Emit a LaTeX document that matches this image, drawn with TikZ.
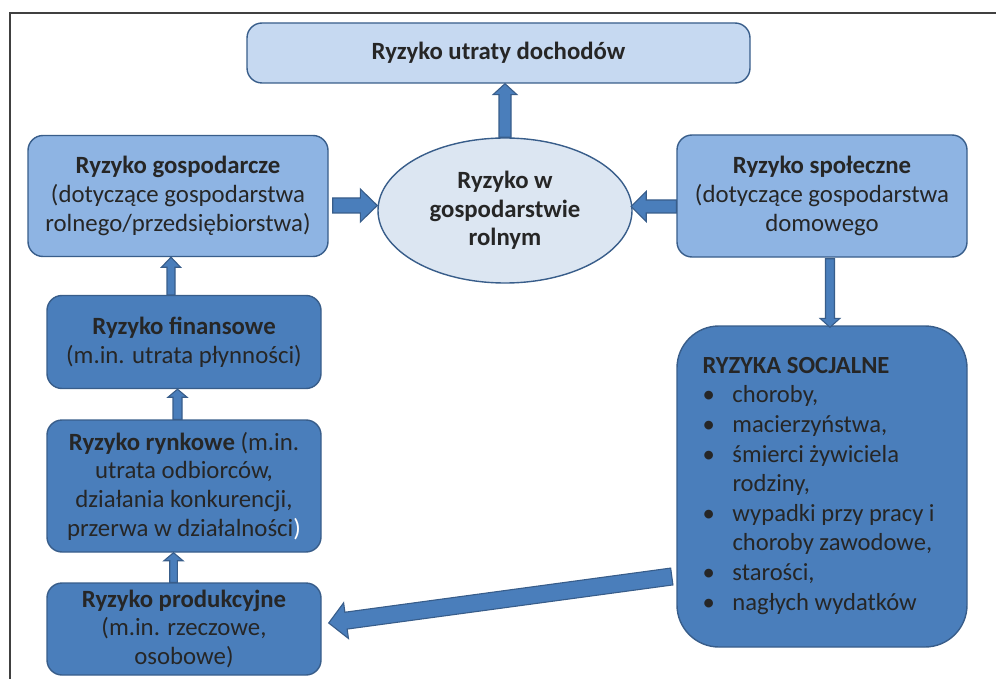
\documentclass[tikz,border=0pt]{standalone}
\usepackage{fontspec}
\setmainfont{Carlito}
\usetikzlibrary{calc,shapes.geometric}

\definecolor{topfill}{RGB}{198,217,241}
\definecolor{ellfill}{RGB}{220,230,242}
\definecolor{midfill}{RGB}{142,180,227}
\definecolor{darkfill}{RGB}{74,126,187}
\definecolor{edge}{RGB}{56,93,138}
\definecolor{ink}{RGB}{38,38,38}
\definecolor{framecol}{RGB}{64,64,64}

% block arrow: #1 tail, #2 tip, #3 half shaft width, #4 half head width, #5 head length
\newcommand\blockarrow[5]{%
  \path ($(#2)!#5!(#1)$) coordinate (ba-neck);
  \draw[blockarr] ($(#1)!#3!90:(#2)$) -- ($(ba-neck)!#3!90:(#2)$)
    -- ($(ba-neck)!#4!90:(#2)$) -- (#2) -- ($(ba-neck)!#4!-90:(#2)$)
    -- ($(ba-neck)!#3!-90:(#2)$) -- ($(#1)!#3!-90:(#2)$) -- cycle;
}

\tikzset{
  box/.style={draw=edge, line width=1.4pt, rounded corners=15pt, align=center,
    inner sep=0pt, text=ink, font=\fontsize{24.8}{28.7}\selectfont},
  blockarr/.style={draw=edge, fill=darkfill, line width=1.1pt, line join=miter},
}

\begin{document}
\begin{tikzpicture}[x=1pt,y=-1pt]
\useasboundingbox (0,0) rectangle (996,679);

% outer frame
\draw[framecol, line width=1.5pt] (10,690) -- (10,13) -- (1010,13);

% boxes
\node[box, fill=topfill, minimum width=503pt, minimum height=60pt] (top) at (498.5,53)
  {\bfseries Ryzyko utraty dochodów};
\node[ellipse, draw=edge, line width=1.4pt, fill=ellfill, align=center, inner sep=0pt,
  text=ink, font=\fontsize{24.8}{28.7}\selectfont\bfseries,
  minimum width=254pt, minimum height=145pt] (ell) at (505,210.5)
  {Ryzyko w\\gospodarstwie\\rolnym};
\node[box, fill=midfill, minimum width=300pt, minimum height=121pt] (gosp) at (178,196)
  {\textbf{Ryzyko gospodarcze}\\(dotyczące gospodarstwa\\rolnego/przedsiębiorstwa)};
\node[box, fill=midfill, minimum width=290pt, minimum height=122pt] (spol) at (822,196)
  {\textbf{Ryzyko społeczne}\\(dotyczące gospodarstwa\\domowego};
\node[box, fill=darkfill, minimum width=274pt, minimum height=93pt] (fin) at (184,342)
  {\textbf{Ryzyko finansowe}\\(m.in. utrata płynności)};
\node[box, fill=darkfill, minimum width=274pt, minimum height=132pt] (ryn) at (184,486)
  {\textbf{Ryzyko rynkowe} (m.in.\\utrata odbiorców,\\działania konkurencji,\\przerwa w działalności{\color{white})}};
\node[box, fill=darkfill, minimum width=274pt, minimum height=92pt] (prod) at (184,629)
  {\textbf{Ryzyko produkcyjne}\\(m.in. rzeczowe,\\osobowe)};
\node[box, fill=darkfill, rounded corners=42pt, minimum width=290pt, minimum height=321pt]
  (soc) at (822,486.5) {};
\node[anchor=north west, inner sep=0pt, text=ink, align=left,
  font=\fontsize{24.6}{29.6}\selectfont] (soclist) at ([shift={(26,27)}]soc.north west)
  {\begin{tabular}{@{}p{30pt}@{}l@{}}
    \multicolumn{2}{@{}l@{}}{\bfseries RYZYKA SOCJALNE}\\
    \textbullet & choroby,\\
    \textbullet & macierzyństwa,\\
    \textbullet & śmierci żywiciela\\
                & rodziny,\\
    \textbullet & wypadki przy pracy i\\
                & choroby zawodowe,\\
    \textbullet & starości,\\
    \textbullet & nagłych wydatków
  \end{tabular}};

% arrow end points
\coordinate (e1) at (ell.north);
\coordinate (e1t) at (ell.north |- top.south);
\coordinate (g1) at ([shift={(4,9.5)}]gosp.east);
\coordinate (g1t) at ([shift={(0,-5)}]ell.west);
\coordinate (s1) at ([shift={(0,10.5)}]spol.west);
\coordinate (s1t) at ([shift={(-1.5,-4)}]ell.east);
\coordinate (f1) at ([shift={(-13,0)}]fin.north);
\coordinate (f1t) at (f1 |- gosp.south);
\coordinate (r1) at ([shift={(-6.5,0)}]ryn.north);
\coordinate (r1t) at (r1 |- fin.south);
\coordinate (p1) at ([shift={(-10.5,0)}]prod.north);
\coordinate (p1t) at (p1 |- ryn.south);
\coordinate (sp1) at ([shift={(8,1)}]spol.south);
\coordinate (sp1t) at ([shift={(0,2)}]sp1 |- soc.north);
\coordinate (so1) at ([shift={(-4.5,90)}]soc.west);
\coordinate (so1t) at ([shift={(7,-6)}]prod.east);

% connectors
\blockarrow{e1}{e1t}{6pt}{12pt}{11pt}
\blockarrow{g1}{g1t}{7.5pt}{16.5pt}{17pt}
\blockarrow{s1}{s1t}{6.5pt}{15pt}{15pt}
\blockarrow{f1}{f1t}{4pt}{9.5pt}{10pt}
\blockarrow{r1}{r1t}{4.5pt}{9.5pt}{8pt}
\blockarrow{p1}{p1t}{3.8pt}{9.5pt}{8pt}
\blockarrow{sp1}{sp1t}{4.5pt}{10pt}{9pt}
\blockarrow{so1}{so1t}{8.5pt}{18pt}{17.5pt}
\end{tikzpicture}
\end{document}
